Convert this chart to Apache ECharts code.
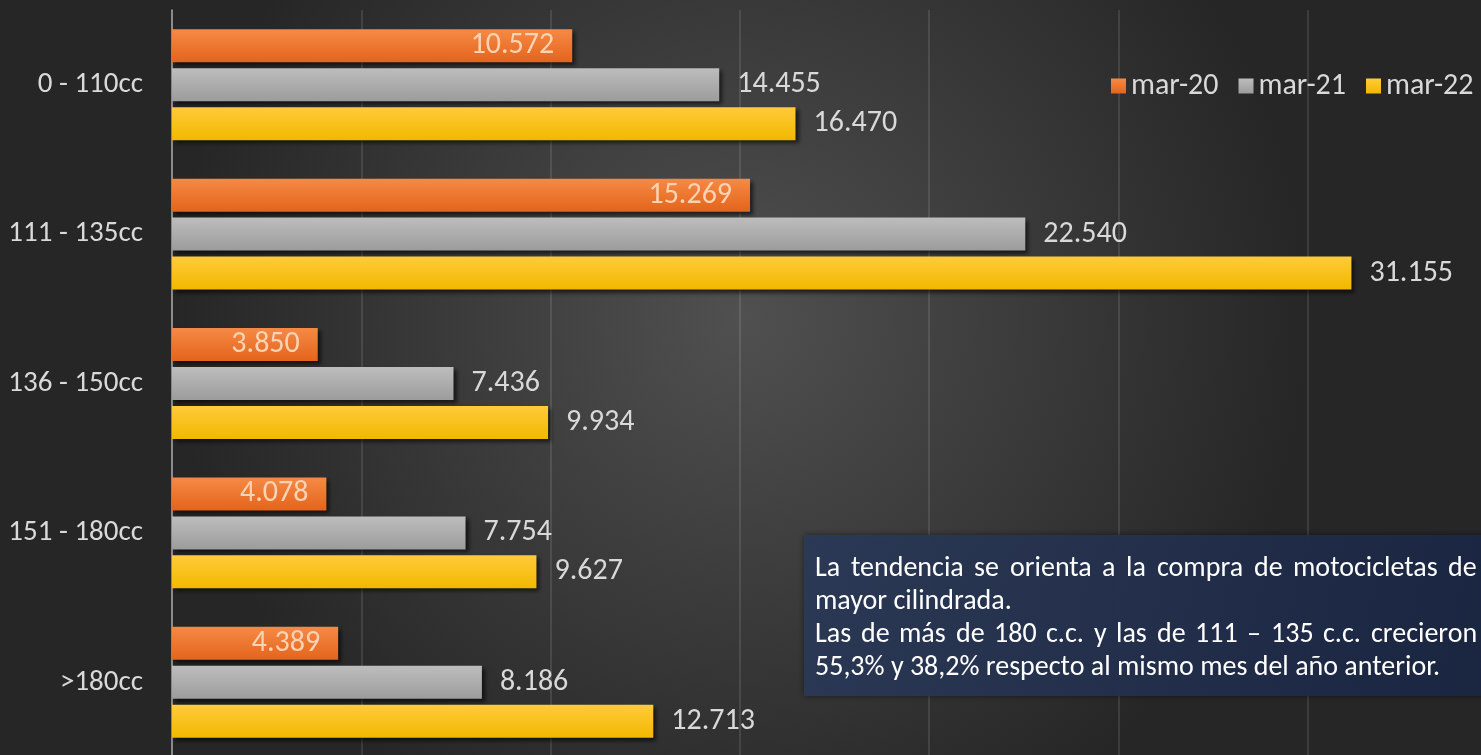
<!DOCTYPE html>
<html>
<head>
<meta charset="UTF-8">
<title>Motos por cilindrada</title>
<script src="https://cdn.jsdelivr.net/npm/echarts@6/dist/echarts.min.js"></script>
<style>
  html, body { margin: 0; padding: 0; background: #333; }
  #main { width: 1481px; height: 755px; }
</style>
</head>
<body>
<div id="main"></div>
<script type="text/javascript">
// datos
var categorias = ['0 - 110cc', '111 - 135cc', '136 - 150cc', '151 - 180cc', '>180cc'];
var series20 = [10572, 15269, 3850, 4078, 4389];
var series21 = [14455, 22540, 7436, 7754, 8186];
var series22 = [16470, 31155, 9934, 9627, 12713];
var nombres = ['mar-20', 'mar-21', 'mar-22'];
var notaLineas = [
    'La tendencia se orienta a la compra de motocicletas de',
    'mayor cilindrada.',
    'Las de más de 180 c.c. y las de 111 – 135 c.c. crecieron',
    '55,3% y 38,2% respecto al mismo mes del año anterior.'
];
var notaJustificar = [true, false, true, false];

var fuente = 'Carlito, "Liberation Sans Narrow", "Open Sans", sans-serif';

function miles(v) {
    return String(v).replace(/\B(?=(\d{3})+(?!\d))/g, '.');
}

function grad(c1, c2) {
    return new echarts.graphic.LinearGradient(0, 0, 0, 1, [
        { offset: 0, color: c1 },
        { offset: 1, color: c2 }
    ]);
}

// texto justificado: una palabra por elemento
var notaX0 = 815, notaX1 = 1477, notaFont = 28;
var ctx = document.createElement('canvas').getContext('2d');
ctx.font = notaFont + 'px ' + fuente;
var notaGraficos = [];
notaLineas.forEach(function (linea, i) {
    var y = 555 + i * 33;
    if (!notaJustificar[i]) {
        notaGraficos.push({
            type: 'text', left: notaX0, top: y, z: 101,
            style: { text: linea, fill: '#ffffff', fontSize: notaFont, fontFamily: fuente }
        });
        return;
    }
    var palabras = linea.split(' ');
    var anchos = palabras.map(function (w) { return ctx.measureText(w).width; });
    var total = anchos.reduce(function (a, b) { return a + b; }, 0);
    var hueco = (notaX1 - notaX0 - total) / (palabras.length - 1);
    var x = notaX0;
    palabras.forEach(function (w, j) {
        notaGraficos.push({
            type: 'text', left: Math.round(x), top: y, z: 101,
            style: { text: w, fill: '#ffffff', fontSize: notaFont, fontFamily: fuente }
        });
        x += anchos[j] + hueco;
    });
});

var myChart = echarts.init(document.getElementById('main'));

var sombra = {
    shadowBlur: 4,
    shadowColor: 'rgba(0,0,0,0.6)',
    shadowOffsetX: 3,
    shadowOffsetY: 3
};

function etiqueta(pos, color) {
    return {
        show: true,
        position: pos,
        distance: 18,
        color: color,
        fontSize: 30,
        fontFamily: fuente,
        formatter: function (p) { return miles(p.value); }
    };
}

var option = {
    backgroundColor: new echarts.graphic.RadialGradient(0.5, 0.42, 0.75, [
        { offset: 0, color: '#505050' },
        { offset: 1, color: '#262626' }
    ]),
    textStyle: { fontFamily: fuente },
    legend: {
        data: nombres,
        left: 1106,
        top: 66,
        width: 420,
        icon: 'rect',
        itemWidth: 15,
        itemHeight: 15,
        itemGap: 20,
        textStyle: { color: '#d9d9d9', fontSize: 30, fontFamily: fuente }
    },
    grid: { left: 172, top: 10, width: 1325, height: 747, outerBoundsMode: 'none' },
    xAxis: {
        type: 'value',
        min: 0,
        max: 35000,
        interval: 5000,
        axisLabel: { show: false },
        axisLine: { show: false },
        axisTick: { show: false },
        splitLine: { lineStyle: { color: 'rgba(255,255,255,0.14)', width: 1.5 } }
    },
    yAxis: {
        type: 'category',
        data: categorias,
        inverse: true,
        axisTick: { show: false },
        axisLine: { lineStyle: { color: '#a6a6a6', width: 1.5 } },
        axisLabel: { color: '#d9d9d9', fontSize: 29, margin: 29, fontFamily: fuente }
    },
    series: [{
        name: nombres[0],
        type: 'bar',
        barWidth: 33,
        barGap: '18%',
        itemStyle: Object.assign({ color: grad('#f58a45', '#e4641c') }, sombra),
        label: etiqueta('insideRight', '#fad3b4'),
        data: series20
    }, {
        name: nombres[1],
        type: 'bar',
        barWidth: 33,
        barGap: '18%',
        itemStyle: Object.assign({ color: grad('#bdbdbd', '#9c9c9c') }, sombra),
        label: etiqueta('right', '#d9d9d9'),
        data: series21
    }, {
        name: nombres[2],
        type: 'bar',
        barWidth: 33,
        barGap: '18%',
        itemStyle: Object.assign({ color: grad('#ffcb3a', '#f2b800') }, sombra),
        label: etiqueta('right', '#d9d9d9'),
        data: series22
    }],
    graphic: [{
        type: 'rect',
        left: 804,
        top: 535,
        shape: { width: 700, height: 161 },
        style: {
            fill: new echarts.graphic.LinearGradient(0, 0, 1, 1, [
                { offset: 0, color: 'rgba(44,58,88,0.95)' },
                { offset: 1, color: 'rgba(26,38,66,0.95)' }
            ]),
            shadowBlur: 6,
            shadowColor: 'rgba(0,0,0,0.5)'
        },
        z: 100
    }].concat(notaGraficos)
};

myChart.setOption(option);
</script>
</body>
</html>
